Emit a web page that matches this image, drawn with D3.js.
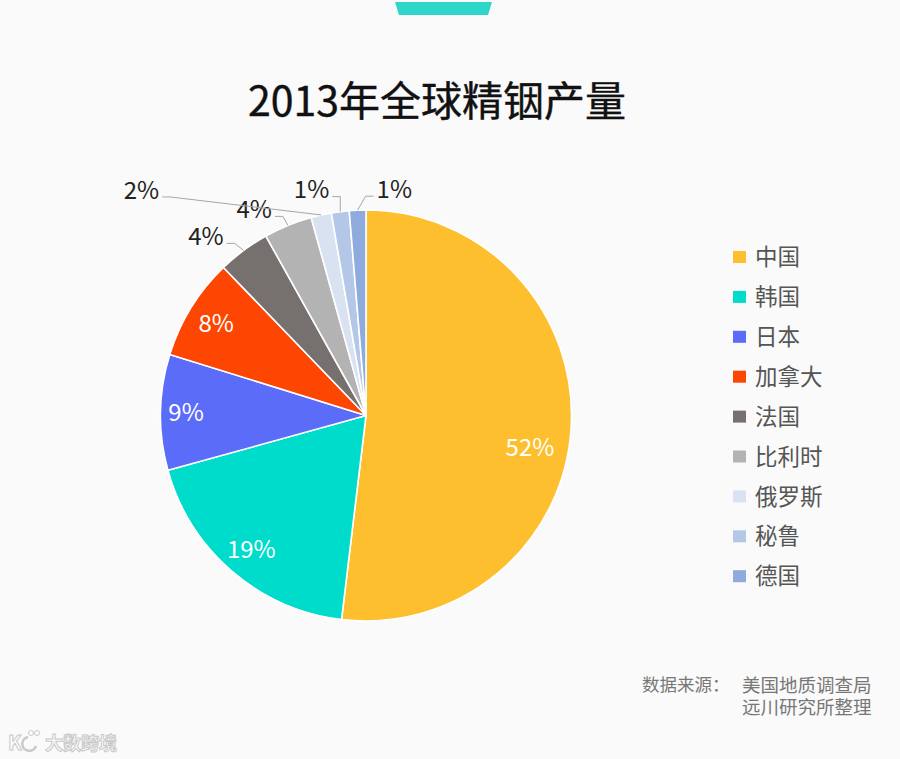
<!DOCTYPE html>
<html><head><meta charset="utf-8">
<script src="https://cdn.jsdelivr.net/npm/d3@7/dist/d3.min.js"></script>
<style>
html,body{margin:0;padding:0;background:#fafafa;}
svg{display:block;font-family:"Noto Sans CJK SC","Noto Sans",sans-serif;}
</style></head>
<body>
<svg id="c" width="900" height="759"></svg>
<script>
// ---- data ----
const title = "2013年全球精铟产量";
const categories = ["中国","韩国","日本","加拿大","法国","比利时","俄罗斯","秘鲁","德国"];
const shares = [51.9, 18.8, 9.1, 8.0, 4.1, 3.8, 1.6, 1.4, 1.3];
const pctLabels = ["52%","19%","9%","8%","4%","4%","2%","1%","1%"];
const sourceLabel = "数据来源：";
const sourceLines = ["美国地质调查局","远川研究所整理"];
const watermark = "大数跨境";

// ---- styles / layout ----
const colors = ["#fdbf2d","#00dccb","#5b6cf9","#fd4602","#76706f","#b3b3b3","#d9e2f1","#b4c7e7","#8faadc"];
const cx = 366, cy = 415.5, R = 205.5;
// inside labels: fraction along the slice angle, radius
const insideLayout = {0:{frac:0.54, r:167}, 1:{frac:0.5, r:176}, 2:{frac:0.5, r:180}, 3:{frac:0.5, r:176}};
// outside labels: text anchor offset from slice edge point, anchor side
const outsideLayout = {
  4:{dx:-20, dy:-14, side:"end"},
  5:{dx:-16, dy:-16, side:"end"},
  6:{dx:-162, dy:-25, side:"end"},
  7:{dx:-11, dy:-22, side:"end"},
  8:{dx:19, dy:-21, side:"start"}
};

const svg = d3.select("#c");
svg.append("rect").attr("width",900).attr("height",759).attr("fill","#fafafa");

// top tab
svg.append("path").attr("d","M395,2 L492,2 L488,15 L399,15 Z").attr("fill","#2ed6c9");

// title
svg.append("text").attr("x",437).attr("y",116).attr("text-anchor","middle")
  .attr("font-size",41).attr("fill","#111").attr("stroke","#111").attr("stroke-width",0.4).text(title);

const g = svg.append("g").attr("transform",`translate(${cx},${cy})`);
const pie = d3.pie().sort(null).value(d=>d);
const arcs = pie(shares);
const arc = d3.arc().innerRadius(0).outerRadius(R);

g.selectAll("path.slice").data(arcs).join("path").attr("class","slice")
  .attr("d",arc).attr("fill",(d,i)=>colors[i])
  .attr("stroke","#fff").attr("stroke-width",1.6).attr("stroke-linejoin","round");

function polar(a, r){ return [Math.sin(a)*r, -Math.cos(a)*r]; }

// inside labels
arcs.forEach((d,i)=>{
  const L = insideLayout[i]; if(!L) return;
  const a = d.startAngle + (d.endAngle-d.startAngle)*L.frac;
  const [x,y] = polar(a, L.r);
  g.append("text").attr("x",x).attr("y",y).attr("dy","0.36em")
    .attr("text-anchor","middle").attr("font-size",24).attr("fill","#fff").text(pctLabels[i]);
});

// outside labels with leader lines
arcs.forEach((d,i)=>{
  const L = outsideLayout[i]; if(!L) return;
  const a = (d.startAngle+d.endAngle)/2;
  const [px,py] = polar(a, R);
  const ax = px+L.dx, ay = py+L.dy;
  const s = L.side==="end" ? 1 : -1;
  const tx = ax + 3*s, ty = ay + 7;
  const ex = tx + 8*s, ey = ty;
  g.append("path").attr("d",`M${px},${py}L${ex},${ey}L${tx},${ty}`)
    .attr("fill","none").attr("stroke","#a6a6a6").attr("stroke-width",1);
  g.append("text").attr("x",ax).attr("y",ay).attr("dy","0.36em")
    .attr("text-anchor",L.side).attr("font-size",24).attr("fill","#222").text(pctLabels[i]);
});

// legend
const leg = svg.append("g").attr("transform","translate(733,257)");
categories.forEach((c,i)=>{
  const y = i*39.9;
  leg.append("rect").attr("x",0).attr("y",y-6).attr("width",13).attr("height",12).attr("fill",colors[i]);
  leg.append("text").attr("x",22).attr("y",y).attr("dy","0.36em")
    .attr("font-size",22.5).attr("fill","#555").text(c);
});

// source
svg.append("text").attr("x",642).attr("y",685).attr("dy","0.36em").attr("font-size",17.5).attr("fill","#777").text(sourceLabel);
sourceLines.forEach((t,i)=>{
  svg.append("text").attr("x",742).attr("y",685+22.5*i).attr("dy","0.36em").attr("font-size",18.5).attr("fill","#777").text(t);
});

// watermark
const wm = svg.append("g").attr("opacity",0.9);
wm.append("text").attr("x",8).attr("y",750).attr("font-size",20).attr("font-weight","bold")
  .attr("fill","#fff").attr("stroke","#c4c4c4").attr("stroke-width",1).text("K");
wm.append("path").attr("d","M28,737 A7,7 0 1,0 36,746").attr("fill","none").attr("stroke","#c4c4c4").attr("stroke-width",2.5);
wm.append("circle").attr("cx",31).attr("cy",733).attr("r",2.5).attr("fill","#fff").attr("stroke","#c4c4c4");
wm.append("circle").attr("cx",37).attr("cy",733).attr("r",2.5).attr("fill","#fff").attr("stroke","#c4c4c4");
wm.append("text").attr("x",45).attr("y",750).attr("font-size",18).attr("font-weight","bold")
  .attr("fill","#fff").attr("stroke","#c4c4c4").attr("stroke-width",1).text(watermark);
</script>
</body></html>
